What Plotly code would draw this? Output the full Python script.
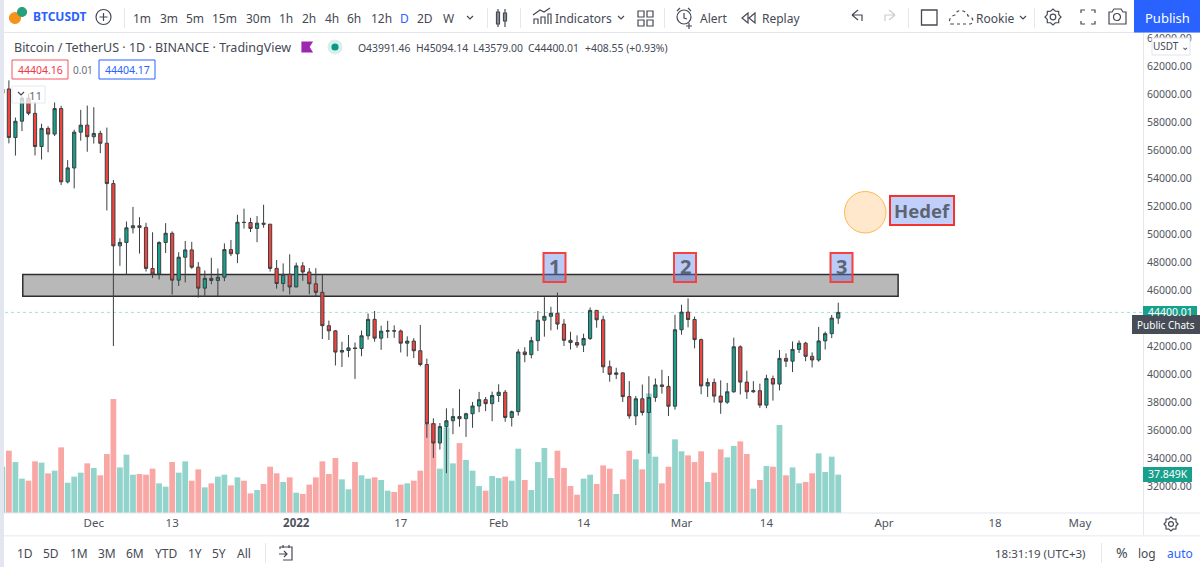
import re
import math
import pandas as pd
import plotly.graph_objects as go

W, H = 1200, 567
FONT = "Noto Sans"
TXT = "#454954"

dates = pd.date_range("2021-11-17", "2022-03-25", freq="D")

opens = [60058,60361,56891,58057,59707,58617,56247,57541,57138,58960,53723,54716,57274,57776,56950,57184,56484,53601,49152,49396,50441,50589,50471,47535,47149,49389,50053,46702,48336,48864,47632,46133,46834,46681,46912,48887,48587,50838,50819,50399,50775,50701,47543,46464,47120,
46216,47722,47286,46446,45832,43451,43082,41566,41679,41864,41822,42729,43902,42560,43059,43084,43071,42201,42352,41660,40680,36445,35071,36244,36660,36958,36809,37160,37716,38166,37881,
38466,38694,36896,37311,41571,41382,42380,43840,44118,44338,43565,42407,42244,42064,42535,44544,43873,40515,39974,40079,38386,37008,38230,37250,38328,39219,39116,
37699,43160,44421,43892,42454,39148,39397,38420,37988,38730,41941,39422,38729,38807,37777,39671,39280,41114,40917,41757,42201,41262,41002,42364,42882,43991.46]
highs = [60840,60976,58320,59845,60029,59444,57875,57700,59398,59150,55280,57445,58865,59175,59053,57375,57600,53859,49699,50891,51936,51200,50797,50125,49485,50777,50189,48700,49500,49436,47995,47392,48300,47537,49328,49576,51375,51810,51156,51280,52088,50704,48139,47900,48548,
47954,47990,47570,47557,47070,43816,43145,42300,42786,42248,43100,44322,44500,43448,43800,43475,43176,42691,42559,43505,41100,36835,36499,37550,37545,38919,37234,38000,38720,38359,38744,
39265,38855,37387,41772,41913,42656,44500,45492,44797,45821,43920,43020,42760,42876,44751,44549,44164,40959,40444,40125,39494,38429,39249,39843,39683,40300,39855,
44225,44949,45400,44101,42527,39693,39679,39547,39362,42594,42039,40236,39486,39310,39947,39887,41718,41478,42325,42400,42296,41544,43361,43025,44220,45094.14]
lows = [58373,56474,55600,57353,58486,55610,55317,55837,57000,53500,53610,53256,56666,55875,56458,55777,51680,42000,47727,47100,50039,48600,47320,46852,46751,48638,45672,46290,46547,47511,45456,45500,46406,45558,46630,48421,47920,50384,50142,49412,50449,47313,46096,45900,45678,
46208,46654,45696,45515,42500,42430,40610,40501,41200,39650,41268,42450,42311,41725,42566,42581,41540,41250,41138,40553,35440,34008,34601,32917,35701,36234,35507,36155,37268,37351,36632,
38000,36586,36250,37026,40843,41116,41645,42666,43117,43174,42000,41748,41870,41570,42427,43307,40073,39450,39639,38000,36800,36350,37036,34322,38014,38600,37000,
37450,42809,43334,41832,38550,38361,37957,37155,37867,38656,38539,38223,38660,37578,37555,38098,38828,40500,40135,41499,40911,40467,40875,41751,42560,43579.00]
closes = [60344,56898,58052,59707,58622,56247,57541,57138,58960,53726,54721,57274,57776,56950,57184,56480,53601,49152,49396,50441,50588,50471,47545,47140,49389,50053,46702,48343,48864,47632,46131,46834,46681,46914,48887,48588,50838,50820,50399,50775,50701,47543,46464,47120,46216,
47722,47286,46446,45832,43451,43082,41566,41679,41864,41822,42729,43902,42560,43059,43084,43071,42201,42352,41660,40680,36445,35071,36244,36660,36958,36809,37160,37716,38166,37881,38466,
38694,36896,37311,41574,41382,42380,43840,44118,44338,43565,42407,42244,42064,42535,44544,43873,40515,39974,40079,38386,37008,38230,37250,38327,39219,39116,37699,
43160,44421,43892,42454,39148,39397,38420,37988,38730,41941,39422,38729,38807,37777,39671,39280,41114,40917,41757,42201,41262,41002,42364,42882,43991,44400.01]
volumes_k = [45.7,61.5,50.3,33.9,31.9,51.0,49.7,39.1,41.8,64.8,29.9,35.9,39.8,49.0,44.4,37.2,58.2,112.5,45.0,57.6,37.8,38.5,37.8,43.8,29.3,26.0,50.3,39.8,51.0,31.9,43.1,25.3,29.3,35.9,37.8,27.3,35.2,31.9,19.4,22.7,28.6,45.7,39.2,30.6,35.2,
20.1,18.8,28.0,35.2,51.0,38.5,54.3,33.2,23.4,50.3,37.2,33.9,35.2,32.6,22.0,20.7,28.0,29.3,31.9,41.8,88.0,88.8,43.8,84.5,49.0,69.0,52.3,41.8,26.6,22.0,36.5,
34.5,35.9,31.9,63.5,32.6,22.7,50.3,64.2,34.5,61.5,44.4,26.6,18.1,33.9,37.8,28.6,47.0,43.8,18.8,33.2,61.5,53.0,43.1,118.0,55.6,29.3,45.7,
72.7,60.9,56.9,50.3,60.9,30.6,39.8,62.8,54.9,66.1,70.7,58.2,24.0,32.6,46.4,45.7,86.9,37.2,45.0,29.3,30.6,39.2,58.9,40.5,55.6,37.849]

price_ticks = [32000,34000,36000,38000,40000,42000,46000,48000,50000,52000,54000,56000,58000,60000,62000,64000]
date_ticks = ["2021-12-01","2021-12-13","2022-01-01","2022-01-17","2022-02-01","2022-02-14","2022-03-01","2022-03-14","2022-04-01","2022-04-18","2022-05-01"]
date_labels = ["Dec","13","<b>2022</b>","17","Feb","14","Mar","14","Apr","18","May"]

UP, DOWN = "#17a08c", "#f4433f"
UPV, DOWNV = "#92d3cc", "#f9a7a5"
vol_colors = [UPV if c >= o else DOWNV for o, c in zip(opens, closes)]

fig = go.Figure()
fig.add_trace(go.Bar(x=dates, y=volumes_k, marker=dict(color=vol_colors, line=dict(width=0)),
                     xaxis="x", yaxis="y", hoverinfo="skip", showlegend=False))
fig.add_trace(go.Candlestick(x=dates, open=opens, high=highs, low=lows, close=closes,
                             increasing=dict(fillcolor=UP, line=dict(color="#3a4042", width=1)),
                             decreasing=dict(fillcolor=DOWN, line=dict(color="#3a4042", width=1)),
                             whiskerwidth=0, xaxis="x", yaxis="y2", showlegend=False))

def fx(x): return x / W
def fy(y): return 1 - y / H

def path(d):
    out, nums = [], []
    for t in re.findall(r"[A-Za-z]|-?[\d.]+", d):
        if t.isalpha():
            out.append(t)
        else:
            nums.append(float(t))
            if len(nums) == 2:
                out.append(f"{fx(nums[0]):.5f},{fy(nums[1]):.5f}")
                nums = []
    return " ".join(out)

shapes, ann = [], []
def rect(x0, y0, x1, y1, fill="rgba(0,0,0,0)", line="rgba(0,0,0,0)", lw=1, layer="above"):
    shapes.append(dict(type="rect", xref="paper", yref="paper", x0=fx(x0), x1=fx(x1), y0=fy(y0), y1=fy(y1),
                       fillcolor=fill, line=dict(color=line, width=lw), layer=layer))
def circ(cx, cy, r, fill="rgba(0,0,0,0)", line=TXT, lw=1.2):
    shapes.append(dict(type="circle", xref="paper", yref="paper", x0=fx(cx-r), x1=fx(cx+r), y0=fy(cy-r), y1=fy(cy+r),
                       fillcolor=fill, line=dict(color=line, width=lw), layer="above"))
def pth(d, line=TXT, lw=1.2, fill="rgba(0,0,0,0)", dash="solid"):
    shapes.append(dict(type="path", xref="paper", yref="paper", path=path(d), fillcolor=fill,
                       line=dict(color=line, width=lw, dash=dash), layer="above"))
def text(x, y, s, size=12, color=TXT, anchor="center", **kw):
    ann.append(dict(text=s, x=fx(x), y=fy(y), xref="paper", yref="paper", xanchor=anchor, yanchor="middle",
                    showarrow=False, font=dict(family=FONT, size=size, color=color), **kw))
def gear(cx, cy, r):
    pts = []
    for i in range(16):
        a = i * math.pi / 8
        rr = r if i % 2 == 0 else r * 0.78
        pts.append(f"{cx + rr*math.cos(a):.2f} {cy + rr*math.sin(a):.2f}")
    pth("M " + " L ".join(pts) + " Z")
    circ(cx, cy, r * 0.35)

# Chart drawings anchored to data
shapes.append(dict(type="rect", xref="x", yref="y2", x0="2021-11-20 03:00", x1="2022-04-03 04:00", y0=45560, y1=47110,
                   fillcolor="#b8b8b8", line=dict(color="#2e2e2e", width=1.5), layer="below"))
shapes.append(dict(type="line", xref="paper", yref="y2", x0=fx(5), x1=fx(1143), y0=44400.01, y1=44400.01,
                   line=dict(color="#a5e0d8", width=1, dash="dot"), layer="below"))
shapes.append(dict(type="circle", xref="paper", yref="paper", x0=fx(844.5), x1=fx(886), y0=fy(191.5), y1=fy(233),
                   fillcolor="#ffe8cc", line=dict(color="#ffb74d", width=1), layer="above"))

# Numbered boxes and target label
for cx, s in [(554.5, "1"), (685, "2"), (841.5, "3")]:
    rect(cx-11, 253, cx+11, 282, fill="rgba(86,125,235,0.40)", line="#f4433f", lw=2)
    text(cx, 266, f"<b>{s}</b>", size=20, color="#5d6472")
rect(890, 196, 954, 225, fill="#c0d0fb", line="#f4332f", lw=2)
text(922, 210.5, "<b>Hedef</b>", size=18.5, color="#5d6472")

# Frame
rect(0, 0, 1200, 32.5, fill="#ffffff")
rect(0, 32, 1200, 33, fill="#e4e6ec")
rect(0, 0, 4, H, fill="#e3e5f1")
rect(1143, 33, 1144, 535, fill="#e6e8ee")
rect(4, 512.5, 1200, 513.5, fill="#e6e8ee")
rect(4, 535, 1200, 536.5, fill="#eef0f4")

# Top toolbar
circ(15, 18, 5.5, fill="#f7931a", line="#f7931a")
circ(22, 12, 4.5, fill="#26a17b", line="#26a17b")
text(31, 17, "<b>BTCUSDT</b>", size=12, color="#2962ff", anchor="left")
circ(103.5, 17, 7.5)
pth("M 103.5 13 L 103.5 21 M 99.5 17 L 107.5 17")
rect(124, 8, 125, 28, fill="#e6e8ee")
for x, s, c in [(142,"1m",TXT),(169,"3m",TXT),(195,"5m",TXT),(224,"15m",TXT),(258,"30m",TXT),(286,"1h",TXT),(309,"2h",TXT),
                (332,"4h",TXT),(354,"6h",TXT),(381,"12h",TXT),(404,"D","#2962ff"),(425,"2D",TXT),(448,"W",TXT)]:
    text(x, 18, s, color=c)
for cx in (470, 621, 1023):
    pth(f"M {cx-3} 16 L {cx} 19 L {cx+3} 16")
rect(487, 8, 488, 28, fill="#e6e8ee")
rect(496.5, 12, 499.5, 24, line=TXT, lw=1.2); rect(503.5, 13, 506.5, 21, line=TXT, lw=1.2)
pth("M 498 9 L 498 27 M 505 9 L 505 27")
rect(520, 8, 521, 28, fill="#e6e8ee")
pth("M 534 24 L 534 19 L 538 19 L 538 24 M 541 24 L 541 17 L 545 17 L 545 24 M 548 24 L 548 14 L 551 14 L 551 24 M 533 15 L 540 10 L 544 12 L 550 8")
text(553, 18, "Indicators", anchor="left")
for a, b in [(640,11),(649,11),(640,20),(649,20)]:
    shapes.append(dict(type="rect", xref="paper", yref="paper", x0=fx(a-2), x1=fx(a+4), y0=fy(b), y1=fy(b+6),
                       line=dict(color=TXT, width=1.2), layer="above"))
rect(664, 8, 665, 28, fill="#e6e8ee")
circ(684, 17, 7)
pth("M 684 13 L 684 18 L 687 19 M 677 11 L 680 8 M 691 11 L 688 8 M 689 23 L 689 29 M 686 26 L 692 26")
text(698, 18, "Alert", anchor="left")
pth("M 748 13 L 742 18 L 748 23 Z M 755 13 L 749 18 L 755 23 Z")
text(760, 18, "Replay", anchor="left")
pth("M 852 15 L 858 10 M 852 15 L 858 20 M 852 15 L 862 15 L 862 21")
pth("M 895 15 L 889 10 M 895 15 L 889 20 M 895 15 L 885 15 L 885 21", line="#c8ccd4")
rect(908, 8, 909, 28, fill="#e6e8ee")
shapes.append(dict(type="rect", xref="paper", yref="paper", x0=fx(921.5), x1=fx(937), y0=fy(10), y1=fy(25),
                   line=dict(color=TXT, width=1.3), layer="above"))
pth("M 951 24 L 970 24 C 974 24 974 16 968 16 C 966 9 956 9 955 15 C 949 16 948 24 951 24", dash="dot")
text(974, 18, "Rookie", anchor="left")
rect(1034, 8, 1035, 28, fill="#e6e8ee")
gear(1053, 17, 8)
pth("M 1081 13 L 1081 10 L 1085 10 M 1091 10 L 1095 10 L 1095 13 M 1081 21 L 1081 24 L 1085 24 M 1095 21 L 1095 24 L 1091 24")
pth("M 1109 12 L 1112 12 L 1114 9 L 1121 9 L 1123 12 L 1126 12 L 1126 24 L 1109 24 Z")
circ(1117, 17, 3.5)
rect(1134, 0, 1200, 32.5, fill="#2962ff")
text(1167, 18, "Publish", size=13, color="#ffffff")

# Symbol legend
text(12, 47.5, "Bitcoin / TetherUS · 1D · BINANCE · TradingView", size=12.5, anchor="left")
pth("M 302 42 L 312 42 L 309 47 L 312 52 L 302 52 Z", line="#9c27b0", fill="#9c27b0")
circ(335, 47, 7, fill="#d8f0ec", line="#d8f0ec")
circ(335, 47, 3, fill="#089981", line="#089981")
for x, s in [(356, "O43991.46"), (414, "H45094.14"), (471, "L43579.00"), (526, "C44400.01"), (583, "+408.55 (+0.93%)")]:
    text(x, 47.5, s, size=10.4, anchor="left")
rect(12, 60, 68, 79, fill="#ffffff", line="#f7525f")
text(40, 70, "44404.16", color="#f23645", size=10.5)
text(83, 70, "0.01", color="#6a6d78", size=10)
rect(99, 60, 155, 79, fill="#ffffff", line="#2962ff")
text(127, 70, "44404.17", color="#2962ff", size=10.5)
rect(12, 86, 45, 103, fill="rgba(255,255,255,0.75)", line="#e6e8ee")
pth("M 18 92 L 21 95 L 24 92")
text(35, 95, "11", size=11.5, color="#6a6d78")

# Right price scale extras
rect(1152, 38, 1190, 55, fill="#ffffff", line="#e0e3eb")
text(1171, 46.5, "USDT ⌄", size=10)
rect(1143, 306, 1197, 320, fill="#17a08c")
text(1170, 312, "44400.01", size=10.5, color="#ffffff")
rect(1132, 315, 1200, 334, fill="#474d57")
text(1166, 325, "Public Chats", size=10, color="#ffffff")
rect(1143, 467, 1192, 482, fill="#17a08c")
text(1168, 474, "37.849K", size=10.5, color="#ffffff")
gear(1171, 524, 7)

# Bottom bar
for x, s in [(25,"1D"),(51,"5D"),(79,"1M"),(107,"3M"),(135,"6M"),(166,"YTD"),(195,"1Y"),(219,"5Y"),(244,"All")]:
    text(x, 553, s)
rect(265, 543, 266, 563, fill="#e6e8ee")
pth("M 280 549 L 280 547 L 292 547 L 292 560 L 283 560 M 279 554 L 287 554 M 284 551 L 287 554 L 284 557 M 283 545 L 283 548 M 289 545 L 289 548")
text(1088, 553, "18:31:19 (UTC+3)", size=11.5, anchor="right")
rect(1101, 543, 1102, 563, fill="#e6e8ee")
text(1122, 552, "%", size=14)
text(1147, 553, "log")
text(1180, 553, "auto", color="#2962ff")

fig.update_layout(
    width=W, height=H, margin=dict(l=0, r=0, t=0, b=0), autosize=False,
    paper_bgcolor="#ffffff", plot_bgcolor="#ffffff", showlegend=False, hovermode=False,
    bargap=0.12, boxgap=0.3, dragmode=False,
    font=dict(family=FONT, size=12, color=TXT),
    xaxis=dict(domain=[fx(4), fx(1143)], range=["2021-11-17 06:00", "2022-05-10 16:00"], type="date",
               tickmode="array", tickvals=date_ticks, ticktext=date_labels, showgrid=False, zeroline=False,
               showline=False, ticks="", ticklen=0, ticklabelstandoff=1,
               tickfont=dict(family=FONT, size=11.5, color="#50535e"),
               rangeslider=dict(visible=False), anchor="y", automargin=False),
    yaxis=dict(domain=[fy(513), fy(33)], range=[0, 473.8], visible=False, fixedrange=True),
    yaxis2=dict(domain=[fy(513), fy(33)], overlaying="y", side="right", anchor="x", range=[30071, 64357],
                tickmode="array", tickvals=price_ticks, ticktext=[f"{p}.00" for p in price_ticks],
                showgrid=False, zeroline=False, showline=False, ticks="", automargin=False, ticklabelstandoff=3,
                tickfont=dict(family=FONT, size=10.5, color="#50535e")),
    shapes=shapes, annotations=ann,
)

fig.write_html("out.html", config=dict(displayModeBar=False, responsive=False),
               post_script="document.body.style.margin='0';")
